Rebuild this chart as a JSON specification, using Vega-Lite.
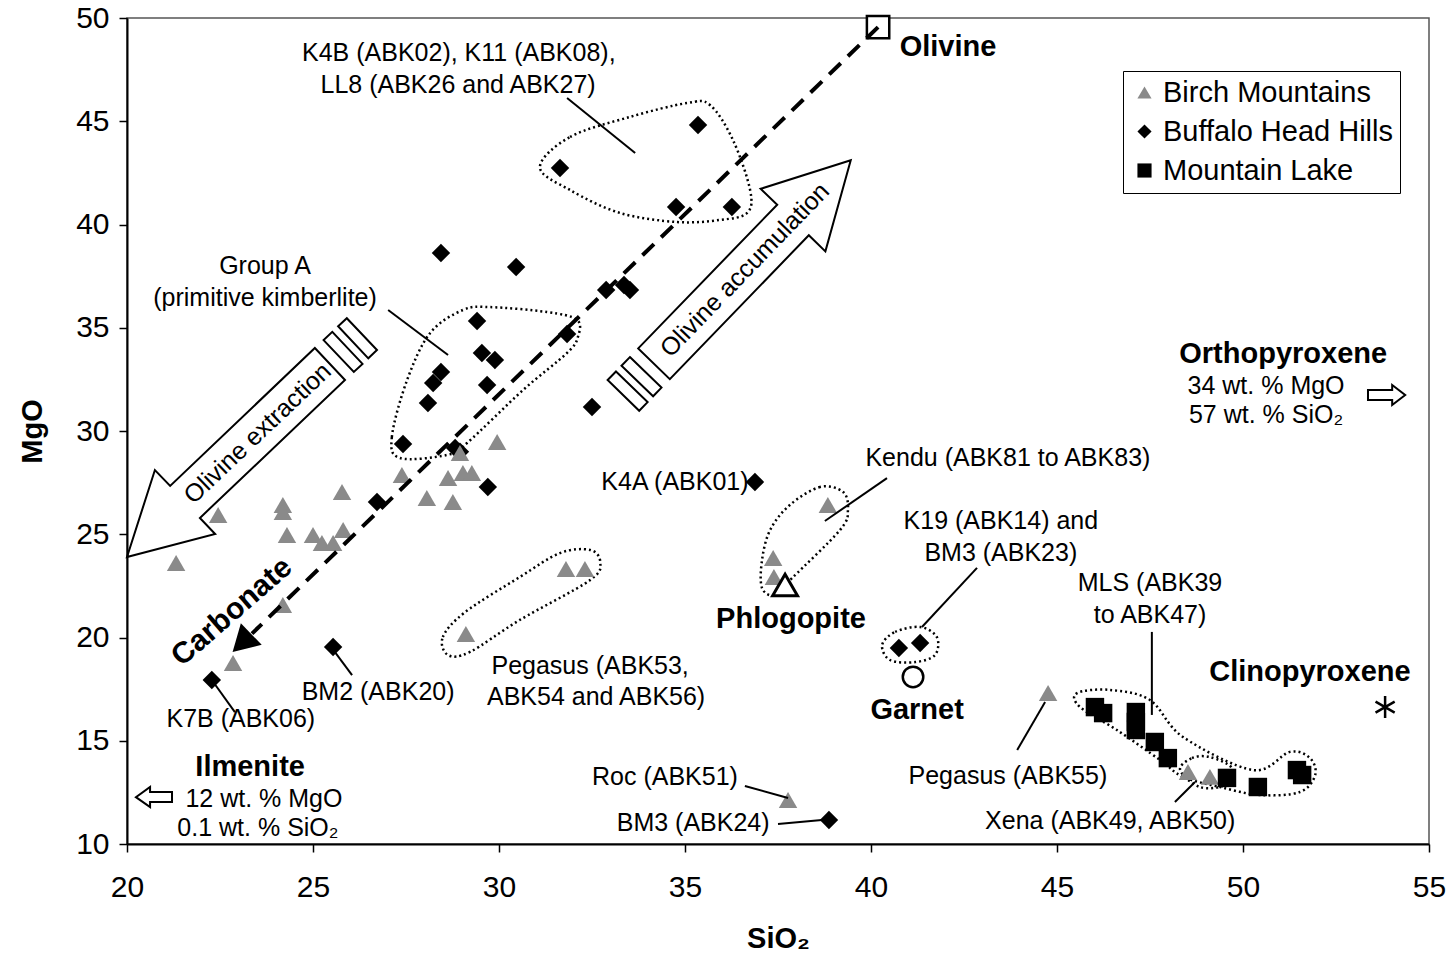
{
  "$schema": "https://vega.github.io/schema/vega-lite/v6.json",
  "width": 1302,
  "height": 826,
  "autosize": "none",
  "padding": {"left": 127, "top": 18, "right": 23, "bottom": 116},
  "background": "white",
  "config": {
    "font": "Liberation Sans",
    "view": {"stroke": "#555", "strokeWidth": 1.5},
    "axis": {"grid": false, "domainColor": "black", "domainWidth": 2, "tickColor": "black", "tickWidth": 1.5, "tickSize": 8, "labelFont": "Liberation Sans", "labelFontSize": 30, "labelColor": "black", "labelFlush": false, "titleFont": "Liberation Sans", "titleFontSize": 29, "titleFontWeight": "bold", "titleColor": "black"},
    "legend": {"labelFont": "Liberation Sans", "labelFontSize": 29, "labelColor": "black", "labelLimit": 500}
  },
  "datasets": {
    "samples": [
      {"SiO2": 31.64, "MgO": 42.74, "group": "Buffalo Head Hills"},
      {"SiO2": 35.35, "MgO": 44.82, "group": "Buffalo Head Hills"},
      {"SiO2": 34.76, "MgO": 40.85, "group": "Buffalo Head Hills"},
      {"SiO2": 36.26, "MgO": 40.85, "group": "Buffalo Head Hills"},
      {"SiO2": 28.44, "MgO": 38.62, "group": "Buffalo Head Hills"},
      {"SiO2": 30.46, "MgO": 37.94, "group": "Buffalo Head Hills"},
      {"SiO2": 32.88, "MgO": 36.83, "group": "Buffalo Head Hills"},
      {"SiO2": 33.36, "MgO": 37.07, "group": "Buffalo Head Hills"},
      {"SiO2": 33.52, "MgO": 36.83, "group": "Buffalo Head Hills"},
      {"SiO2": 29.41, "MgO": 35.33, "group": "Buffalo Head Hills"},
      {"SiO2": 29.54, "MgO": 33.78, "group": "Buffalo Head Hills"},
      {"SiO2": 29.89, "MgO": 33.44, "group": "Buffalo Head Hills"},
      {"SiO2": 28.44, "MgO": 32.86, "group": "Buffalo Head Hills"},
      {"SiO2": 28.23, "MgO": 32.32, "group": "Buffalo Head Hills"},
      {"SiO2": 28.09, "MgO": 31.36, "group": "Buffalo Head Hills"},
      {"SiO2": 29.68, "MgO": 32.23, "group": "Buffalo Head Hills"},
      {"SiO2": 31.83, "MgO": 34.70, "group": "Buffalo Head Hills"},
      {"SiO2": 27.42, "MgO": 29.37, "group": "Buffalo Head Hills"},
      {"SiO2": 28.82, "MgO": 29.18, "group": "Buffalo Head Hills"},
      {"SiO2": 28.95, "MgO": 29.0, "group": "Buffalo Head Hills"},
      {"SiO2": 32.50, "MgO": 31.16, "group": "Buffalo Head Hills"},
      {"SiO2": 29.70, "MgO": 27.29, "group": "Buffalo Head Hills"},
      {"SiO2": 36.88, "MgO": 27.53, "group": "Buffalo Head Hills"},
      {"SiO2": 26.72, "MgO": 26.56, "group": "Buffalo Head Hills"},
      {"SiO2": 22.28, "MgO": 17.94, "group": "Buffalo Head Hills"},
      {"SiO2": 25.54, "MgO": 19.54, "group": "Buffalo Head Hills"},
      {"SiO2": 40.75, "MgO": 19.49, "group": "Buffalo Head Hills"},
      {"SiO2": 41.32, "MgO": 19.73, "group": "Buffalo Head Hills"},
      {"SiO2": 38.87, "MgO": 11.16, "group": "Buffalo Head Hills"},
      {"SiO2": 21.32, "MgO": 23.61, "group": "Birch Mountains"},
      {"SiO2": 22.45, "MgO": 25.93, "group": "Birch Mountains"},
      {"SiO2": 24.19, "MgO": 26.42, "group": "Birch Mountains"},
      {"SiO2": 24.19, "MgO": 26.08, "group": "Birch Mountains"},
      {"SiO2": 24.30, "MgO": 24.96, "group": "Birch Mountains"},
      {"SiO2": 25.78, "MgO": 27.05, "group": "Birch Mountains"},
      {"SiO2": 25.00, "MgO": 24.96, "group": "Birch Mountains"},
      {"SiO2": 25.24, "MgO": 24.58, "group": "Birch Mountains"},
      {"SiO2": 25.54, "MgO": 24.58, "group": "Birch Mountains"},
      {"SiO2": 25.81, "MgO": 25.21, "group": "Birch Mountains"},
      {"SiO2": 24.19, "MgO": 21.57, "group": "Birch Mountains"},
      {"SiO2": 22.85, "MgO": 18.77, "group": "Birch Mountains"},
      {"SiO2": 27.39, "MgO": 27.87, "group": "Birch Mountains"},
      {"SiO2": 28.63, "MgO": 27.72, "group": "Birch Mountains"},
      {"SiO2": 29.03, "MgO": 27.97, "group": "Birch Mountains"},
      {"SiO2": 29.27, "MgO": 27.97, "group": "Birch Mountains"},
      {"SiO2": 28.06, "MgO": 26.76, "group": "Birch Mountains"},
      {"SiO2": 28.76, "MgO": 26.56, "group": "Birch Mountains"},
      {"SiO2": 29.95, "MgO": 29.47, "group": "Birch Mountains"},
      {"SiO2": 28.95, "MgO": 28.93, "group": "Birch Mountains"},
      {"SiO2": 29.11, "MgO": 20.17, "group": "Birch Mountains"},
      {"SiO2": 31.80, "MgO": 23.32, "group": "Birch Mountains"},
      {"SiO2": 32.31, "MgO": 23.32, "group": "Birch Mountains"},
      {"SiO2": 38.84, "MgO": 26.42, "group": "Birch Mountains"},
      {"SiO2": 37.37, "MgO": 23.85, "group": "Birch Mountains"},
      {"SiO2": 37.39, "MgO": 22.93, "group": "Birch Mountains"},
      {"SiO2": 37.77, "MgO": 12.13, "group": "Birch Mountains"},
      {"SiO2": 44.76, "MgO": 17.31, "group": "Birch Mountains"},
      {"SiO2": 48.52, "MgO": 13.49, "group": "Birch Mountains"},
      {"SiO2": 49.11, "MgO": 13.25, "group": "Birch Mountains"},
      {"SiO2": 46.02, "MgO": 16.63, "group": "Mountain Lake"},
      {"SiO2": 46.24, "MgO": 16.34, "group": "Mountain Lake"},
      {"SiO2": 47.12, "MgO": 16.39, "group": "Mountain Lake"},
      {"SiO2": 47.12, "MgO": 15.91, "group": "Mountain Lake"},
      {"SiO2": 47.12, "MgO": 15.52, "group": "Mountain Lake"},
      {"SiO2": 47.63, "MgO": 14.94, "group": "Mountain Lake"},
      {"SiO2": 47.98, "MgO": 14.16, "group": "Mountain Lake"},
      {"SiO2": 49.57, "MgO": 13.20, "group": "Mountain Lake"},
      {"SiO2": 50.40, "MgO": 12.76, "group": "Mountain Lake"},
      {"SiO2": 51.45, "MgO": 13.58, "group": "Mountain Lake"},
      {"SiO2": 51.59, "MgO": 13.34, "group": "Mountain Lake"}
    ],
    "trend": [
      {"SiO2": 40.19, "MgO": 49.56, "i": 0},
      {"SiO2": 23.36, "MgO": 20.19, "i": 1}
    ],
    "arrowhead": [{"SiO2": 23.09, "MgO": 19.73}],
    "polys": [
      {"id": "ext", "i": 0, "SiO2": 20.00, "MgO": 23.90},
      {"id": "ext", "i": 1, "SiO2": 20.75, "MgO": 28.11},
      {"id": "ext", "i": 2, "SiO2": 21.16, "MgO": 27.34},
      {"id": "ext", "i": 3, "SiO2": 25.05, "MgO": 34.02},
      {"id": "ext", "i": 4, "SiO2": 25.86, "MgO": 32.47},
      {"id": "ext", "i": 5, "SiO2": 21.96, "MgO": 25.79},
      {"id": "ext", "i": 6, "SiO2": 22.37, "MgO": 25.01},
      {"id": "extb1", "i": 0, "SiO2": 25.285, "MgO": 34.40},
      {"id": "extb1", "i": 1, "SiO2": 26.097, "MgO": 32.86},
      {"id": "extb1", "i": 2, "SiO2": 26.331, "MgO": 33.25},
      {"id": "extb1", "i": 3, "SiO2": 25.519, "MgO": 34.80},
      {"id": "extb2", "i": 0, "SiO2": 25.675, "MgO": 35.07},
      {"id": "extb2", "i": 1, "SiO2": 26.487, "MgO": 33.52},
      {"id": "extb2", "i": 2, "SiO2": 26.72, "MgO": 33.92},
      {"id": "extb2", "i": 3, "SiO2": 25.909, "MgO": 35.46},
      {"id": "acc", "i": 0, "SiO2": 39.455, "MgO": 43.11},
      {"id": "acc", "i": 1, "SiO2": 37.033, "MgO": 41.73},
      {"id": "acc", "i": 2, "SiO2": 37.479, "MgO": 40.96},
      {"id": "acc", "i": 3, "SiO2": 33.742, "MgO": 34.00},
      {"id": "acc", "i": 4, "SiO2": 34.592, "MgO": 32.51},
      {"id": "acc", "i": 5, "SiO2": 38.328, "MgO": 39.48},
      {"id": "acc", "i": 6, "SiO2": 38.774, "MgO": 38.70},
      {"id": "accb1", "i": 0, "SiO2": 33.519, "MgO": 33.58},
      {"id": "accb1", "i": 1, "SiO2": 34.368, "MgO": 32.10},
      {"id": "accb1", "i": 2, "SiO2": 34.143, "MgO": 31.68},
      {"id": "accb1", "i": 3, "SiO2": 33.293, "MgO": 33.16},
      {"id": "accb2", "i": 0, "SiO2": 33.145, "MgO": 32.88},
      {"id": "accb2", "i": 1, "SiO2": 33.995, "MgO": 31.40},
      {"id": "accb2", "i": 2, "SiO2": 33.769, "MgO": 30.98},
      {"id": "accb2", "i": 3, "SiO2": 32.920, "MgO": 32.47},
      {"id": "opx", "i": 0, "SiO2": 53.36, "MgO": 31.99},
      {"id": "opx", "i": 1, "SiO2": 54.01, "MgO": 31.99},
      {"id": "opx", "i": 2, "SiO2": 54.01, "MgO": 32.23},
      {"id": "opx", "i": 3, "SiO2": 54.36, "MgO": 31.74},
      {"id": "opx", "i": 4, "SiO2": 54.01, "MgO": 31.26},
      {"id": "opx", "i": 5, "SiO2": 54.01, "MgO": 31.50},
      {"id": "opx", "i": 6, "SiO2": 53.36, "MgO": 31.50},
      {"id": "ilm", "i": 0, "SiO2": 21.21, "MgO": 12.52},
      {"id": "ilm", "i": 1, "SiO2": 20.62, "MgO": 12.52},
      {"id": "ilm", "i": 2, "SiO2": 20.62, "MgO": 12.76},
      {"id": "ilm", "i": 3, "SiO2": 20.24, "MgO": 12.27},
      {"id": "ilm", "i": 4, "SiO2": 20.62, "MgO": 11.79},
      {"id": "ilm", "i": 5, "SiO2": 20.62, "MgO": 12.03},
      {"id": "ilm", "i": 6, "SiO2": 21.21, "MgO": 12.03}
    ],
    "loops": [
      {"id": "K4B", "i": 0, "SiO2": 31.10, "MgO": 42.78},
      {"id": "K4B", "i": 1, "SiO2": 31.91, "MgO": 44.24},
      {"id": "K4B", "i": 2, "SiO2": 33.52, "MgO": 45.21},
      {"id": "K4B", "i": 3, "SiO2": 35.05, "MgO": 45.88},
      {"id": "K4B", "i": 4, "SiO2": 35.67, "MgO": 45.79},
      {"id": "K4B", "i": 5, "SiO2": 36.29, "MgO": 44.09},
      {"id": "K4B", "i": 6, "SiO2": 36.75, "MgO": 41.67},
      {"id": "K4B", "i": 7, "SiO2": 36.67, "MgO": 40.56},
      {"id": "K4B", "i": 8, "SiO2": 35.94, "MgO": 40.22},
      {"id": "K4B", "i": 9, "SiO2": 34.79, "MgO": 40.12},
      {"id": "K4B", "i": 10, "SiO2": 33.25, "MgO": 40.56},
      {"id": "K4B", "i": 11, "SiO2": 31.91, "MgO": 41.67},
      {"id": "GA", "i": 0, "SiO2": 27.34, "MgO": 28.69},
      {"id": "GA", "i": 1, "SiO2": 27.12, "MgO": 29.71},
      {"id": "GA", "i": 2, "SiO2": 27.53, "MgO": 32.47},
      {"id": "GA", "i": 3, "SiO2": 28.15, "MgO": 34.75},
      {"id": "GA", "i": 4, "SiO2": 29.03, "MgO": 35.86},
      {"id": "GA", "i": 5, "SiO2": 29.76, "MgO": 36.00},
      {"id": "GA", "i": 6, "SiO2": 31.29, "MgO": 35.76},
      {"id": "GA", "i": 7, "SiO2": 32.10, "MgO": 35.38},
      {"id": "GA", "i": 8, "SiO2": 32.12, "MgO": 34.55},
      {"id": "GA", "i": 9, "SiO2": 31.83, "MgO": 33.78},
      {"id": "GA", "i": 10, "SiO2": 30.65, "MgO": 31.99},
      {"id": "GA", "i": 11, "SiO2": 29.14, "MgO": 29.42},
      {"id": "GA", "i": 12, "SiO2": 28.60, "MgO": 28.84},
      {"id": "Kendu", "i": 0, "SiO2": 39.25, "MgO": 27.05},
      {"id": "Kendu", "i": 1, "SiO2": 38.63, "MgO": 27.29},
      {"id": "Kendu", "i": 2, "SiO2": 37.82, "MgO": 26.42},
      {"id": "Kendu", "i": 3, "SiO2": 37.29, "MgO": 25.21},
      {"id": "Kendu", "i": 4, "SiO2": 37.07, "MgO": 23.75},
      {"id": "Kendu", "i": 5, "SiO2": 37.07, "MgO": 22.40},
      {"id": "Kendu", "i": 6, "SiO2": 37.42, "MgO": 22.06},
      {"id": "Kendu", "i": 7, "SiO2": 37.88, "MgO": 22.88},
      {"id": "Kendu", "i": 8, "SiO2": 39.17, "MgO": 25.21},
      {"id": "Kendu", "i": 9, "SiO2": 39.38, "MgO": 26.17},
      {"id": "K19", "i": 0, "SiO2": 40.30, "MgO": 19.64},
      {"id": "K19", "i": 1, "SiO2": 40.65, "MgO": 20.27},
      {"id": "K19", "i": 2, "SiO2": 41.32, "MgO": 20.51},
      {"id": "K19", "i": 3, "SiO2": 41.77, "MgO": 20.02},
      {"id": "K19", "i": 4, "SiO2": 41.72, "MgO": 19.15},
      {"id": "K19", "i": 5, "SiO2": 41.18, "MgO": 18.81},
      {"id": "K19", "i": 6, "SiO2": 40.51, "MgO": 18.91},
      {"id": "Peg", "i": 0, "SiO2": 28.63, "MgO": 19.15},
      {"id": "Peg", "i": 1, "SiO2": 28.49, "MgO": 20.02},
      {"id": "Peg", "i": 2, "SiO2": 29.09, "MgO": 21.23},
      {"id": "Peg", "i": 3, "SiO2": 30.56, "MgO": 22.93},
      {"id": "Peg", "i": 4, "SiO2": 31.64, "MgO": 24.09},
      {"id": "Peg", "i": 5, "SiO2": 32.45, "MgO": 24.24},
      {"id": "Peg", "i": 6, "SiO2": 32.72, "MgO": 23.66},
      {"id": "Peg", "i": 7, "SiO2": 32.45, "MgO": 22.78},
      {"id": "Peg", "i": 8, "SiO2": 30.56, "MgO": 20.85},
      {"id": "Peg", "i": 9, "SiO2": 29.22, "MgO": 19.30},
      {"id": "MLS", "i": 0, "SiO2": 45.54, "MgO": 17.31},
      {"id": "MLS", "i": 1, "SiO2": 46.43, "MgO": 17.46},
      {"id": "MLS", "i": 2, "SiO2": 47.50, "MgO": 16.97},
      {"id": "MLS", "i": 3, "SiO2": 48.39, "MgO": 15.18},
      {"id": "MLS", "i": 4, "SiO2": 50.27, "MgO": 13.58},
      {"id": "MLS", "i": 5, "SiO2": 51.26, "MgO": 14.46},
      {"id": "MLS", "i": 6, "SiO2": 51.80, "MgO": 14.16},
      {"id": "MLS", "i": 7, "SiO2": 51.94, "MgO": 13.34},
      {"id": "MLS", "i": 8, "SiO2": 51.53, "MgO": 12.52},
      {"id": "MLS", "i": 9, "SiO2": 50.46, "MgO": 12.37},
      {"id": "MLS", "i": 10, "SiO2": 49.38, "MgO": 12.76},
      {"id": "MLS", "i": 11, "SiO2": 48.39, "MgO": 13.25},
      {"id": "MLS", "i": 12, "SiO2": 47.77, "MgO": 14.07},
      {"id": "MLS", "i": 13, "SiO2": 46.61, "MgO": 15.52},
      {"id": "MLS", "i": 14, "SiO2": 45.62, "MgO": 16.63},
      {"id": "Xena", "i": 0, "SiO2": 48.31, "MgO": 13.58},
      {"id": "Xena", "i": 1, "SiO2": 48.63, "MgO": 14.16},
      {"id": "Xena", "i": 2, "SiO2": 49.11, "MgO": 14.21},
      {"id": "Xena", "i": 3, "SiO2": 49.70, "MgO": 13.68},
      {"id": "Xena", "i": 4, "SiO2": 49.52, "MgO": 12.86},
      {"id": "Xena", "i": 5, "SiO2": 48.84, "MgO": 12.76}
    ],
    "leaders": [
      {"x1": 31.83, "y1": 46.13, "x2": 33.66, "y2": 43.46},
      {"x1": 27.02, "y1": 35.86, "x2": 28.63, "y2": 33.68},
      {"x1": 40.43, "y1": 27.72, "x2": 38.76, "y2": 25.64},
      {"x1": 42.85, "y1": 23.37, "x2": 41.37, "y2": 20.51},
      {"x1": 47.55, "y1": 20.27, "x2": 47.55, "y2": 16.25},
      {"x1": 43.93, "y1": 14.55, "x2": 44.68, "y2": 16.88},
      {"x1": 48.17, "y1": 12.03, "x2": 48.71, "y2": 13.00},
      {"x1": 22.28, "y1": 17.94, "x2": 22.90, "y2": 16.39},
      {"x1": 25.51, "y1": 19.49, "x2": 26.05, "y2": 18.18},
      {"x1": 36.61, "y1": 12.81, "x2": 37.77, "y2": 12.23},
      {"x1": 37.50, "y1": 10.97, "x2": 38.68, "y2": 11.16}
    ],
    "labels": [
      {"t": "K4B (ABK02), K11 (ABK08),", "SiO2": 28.92, "MgO": 48.31},
      {"t": "LL8 (ABK26 and ABK27)", "SiO2": 28.90, "MgO": 46.76},
      {"t": "Group A", "SiO2": 23.71, "MgO": 37.99},
      {"t": "(primitive kimberlite)", "SiO2": 23.71, "MgO": 36.44},
      {"t": "K4A (ABK01)", "SiO2": 34.73, "MgO": 27.53},
      {"t": "Kendu (ABK81 to ABK83)", "SiO2": 43.68, "MgO": 28.69},
      {"t": "K19 (ABK14) and", "SiO2": 43.49, "MgO": 25.64},
      {"t": "BM3 (ABK23)", "SiO2": 43.49, "MgO": 24.09},
      {"t": "MLS (ABK39", "SiO2": 47.50, "MgO": 22.64},
      {"t": "to ABK47)", "SiO2": 47.50, "MgO": 21.09},
      {"t": "34 wt. % MgO", "SiO2": 50.62, "MgO": 32.18},
      {"t": "57 wt. % SiO₂", "SiO2": 50.62, "MgO": 30.77},
      {"t": "Pegasus (ABK53,", "SiO2": 32.45, "MgO": 18.62},
      {"t": "ABK54 and ABK56)", "SiO2": 32.61, "MgO": 17.12},
      {"t": "BM2 (ABK20)", "SiO2": 26.75, "MgO": 17.36},
      {"t": "K7B (ABK06)", "SiO2": 23.06, "MgO": 16.05},
      {"t": "12 wt. % MgO", "SiO2": 23.68, "MgO": 12.18},
      {"t": "0.1 wt. % SiO₂", "SiO2": 23.52, "MgO": 10.77},
      {"t": "Roc (ABK51)", "SiO2": 34.46, "MgO": 13.25},
      {"t": "BM3 (ABK24)", "SiO2": 35.22, "MgO": 11.02},
      {"t": "Pegasus (ABK55)", "SiO2": 43.68, "MgO": 13.29},
      {"t": "Xena (ABK49, ABK50)", "SiO2": 46.43, "MgO": 11.11}
    ],
    "boldlabels": [
      {"t": "Olivine", "SiO2": 42.07, "MgO": 48.60},
      {"t": "Orthopyroxene", "SiO2": 51.08, "MgO": 33.73},
      {"t": "Clinopyroxene", "SiO2": 51.80, "MgO": 18.33},
      {"t": "Phlogopite", "SiO2": 37.85, "MgO": 20.90},
      {"t": "Garnet", "SiO2": 41.24, "MgO": 16.49},
      {"t": "Ilmenite", "SiO2": 23.31, "MgO": 13.73}
    ]
  },
  "encoding": {
    "x": {"field": "SiO2", "type": "quantitative", "scale": {"domain": [20, 55], "nice": false, "zero": false},
      "axis": {"title": "SiO₂", "values": [20, 25, 30, 35, 40, 45, 50, 55], "labelPadding": 20, "titlePadding": 22}},
    "y": {"field": "MgO", "type": "quantitative", "scale": {"domain": [10, 50], "nice": false, "zero": false},
      "axis": {"title": "MgO", "values": [10, 15, 20, 25, 30, 35, 40, 45, 50], "labelPadding": 10, "titlePadding": 28}}
  },
  "layer": [
    {
      "data": {"name": "loops"},
      "mark": {"type": "line", "interpolate": "cardinal-closed", "color": "black", "strokeWidth": 2.5, "strokeDash": [2, 3]},
      "encoding": {"detail": {"field": "id"}, "order": {"field": "i", "type": "quantitative"}}
    },
    {
      "data": {"name": "polys"},
      "mark": {"type": "line", "interpolate": "linear-closed", "color": "black", "strokeWidth": 2},
      "encoding": {"detail": {"field": "id"}, "order": {"field": "i", "type": "quantitative"}}
    },
    {
      "data": {"name": "samples"},
      "mark": {"type": "point", "filled": true, "size": 340, "opacity": 1},
      "encoding": {
        "shape": {"field": "group", "type": "nominal", "scale": {"domain": ["Birch Mountains", "Buffalo Head Hills", "Mountain Lake"], "range": ["triangle-up", "diamond", "square"]},
          "legend": {"title": null, "orient": "none", "legendX": 996, "legendY": 53, "strokeColor": "black", "padding": 7, "symbolSize": 200, "rowPadding": 9, "labelOffset": 4, "fillColor": "white"}},
        "color": {"field": "group", "type": "nominal", "scale": {"domain": ["Birch Mountains", "Buffalo Head Hills", "Mountain Lake"], "range": ["#8a8a8a", "#000000", "#000000"]},
          "legend": {"title": null, "orient": "none", "legendX": 996, "legendY": 53, "strokeColor": "black", "padding": 7, "symbolSize": 200, "rowPadding": 9, "labelOffset": 4, "fillColor": "white"}}
      }
    },
    {
      "data": {"values": [{"SiO2": 40.19, "MgO": 49.56, "name": "Olivine"}]},
      "mark": {"type": "point", "shape": "square", "size": 500, "filled": false, "fill": "white", "stroke": "black", "strokeWidth": 2.5, "opacity": 1}
    },
    {
      "data": {"values": [{"SiO2": 37.69, "MgO": 22.54, "name": "Phlogopite"}]},
      "mark": {"type": "point", "shape": "triangle-up", "size": 620, "filled": false, "fill": "white", "stroke": "black", "strokeWidth": 3, "opacity": 1}
    },
    {
      "data": {"values": [{"SiO2": 41.13, "MgO": 18.09, "name": "Garnet"}]},
      "mark": {"type": "point", "shape": "circle", "size": 420, "filled": false, "fill": "white", "stroke": "black", "strokeWidth": 2.5, "opacity": 1}
    },
    {
      "data": {"values": [{"SiO2": 53.82, "MgO": 16.63, "name": "Clinopyroxene"}]},
      "mark": {"type": "point", "shape": "M0,-1L0,1M-0.87,-0.5L0.87,0.5M-0.87,0.5L0.87,-0.5", "size": 484, "filled": false, "stroke": "black", "strokeWidth": 2.5, "opacity": 1}
    },
    {
      "data": {"name": "trend"},
      "mark": {"type": "line", "color": "black", "strokeWidth": 4, "strokeDash": [16, 10]},
      "encoding": {"order": {"field": "i", "type": "quantitative"}}
    },
    {
      "data": {"name": "arrowhead"},
      "mark": {"type": "point", "shape": "triangle-up", "angle": 226, "size": 900, "filled": true, "color": "black", "opacity": 1}
    },
    {
      "data": {"name": "leaders"},
      "mark": {"type": "rule", "color": "black", "strokeWidth": 2},
      "encoding": {
        "x": {"field": "x1", "type": "quantitative"},
        "y": {"field": "y1", "type": "quantitative"},
        "x2": {"field": "x2"},
        "y2": {"field": "y2"}
      }
    },
    {
      "data": {"name": "labels"},
      "mark": {"type": "text", "fontSize": 25, "align": "center", "baseline": "middle", "color": "black"},
      "encoding": {"text": {"field": "t"}}
    },
    {
      "data": {"name": "boldlabels"},
      "mark": {"type": "text", "fontSize": 29, "fontWeight": "bold", "align": "center", "baseline": "middle", "color": "black"},
      "encoding": {"text": {"field": "t"}}
    },
    {
      "data": {"values": [{"t": "Olivine extraction", "SiO2": 23.51, "MgO": 29.89}]},
      "mark": {"type": "text", "fontSize": 25, "angle": -43.5, "align": "center", "baseline": "middle", "color": "black"},
      "encoding": {"text": {"field": "t"}}
    },
    {
      "data": {"values": [{"t": "Olivine accumulation", "SiO2": 36.61, "MgO": 37.80}]},
      "mark": {"type": "text", "fontSize": 25, "angle": -46, "align": "center", "baseline": "middle", "color": "black"},
      "encoding": {"text": {"field": "t"}}
    },
    {
      "data": {"values": [{"t": "Carbonate", "SiO2": 22.82, "MgO": 21.24}]},
      "mark": {"type": "text", "fontSize": 30, "fontWeight": "bold", "angle": -41, "align": "center", "baseline": "middle", "color": "black"},
      "encoding": {"text": {"field": "t"}}
    }
  ]
}
